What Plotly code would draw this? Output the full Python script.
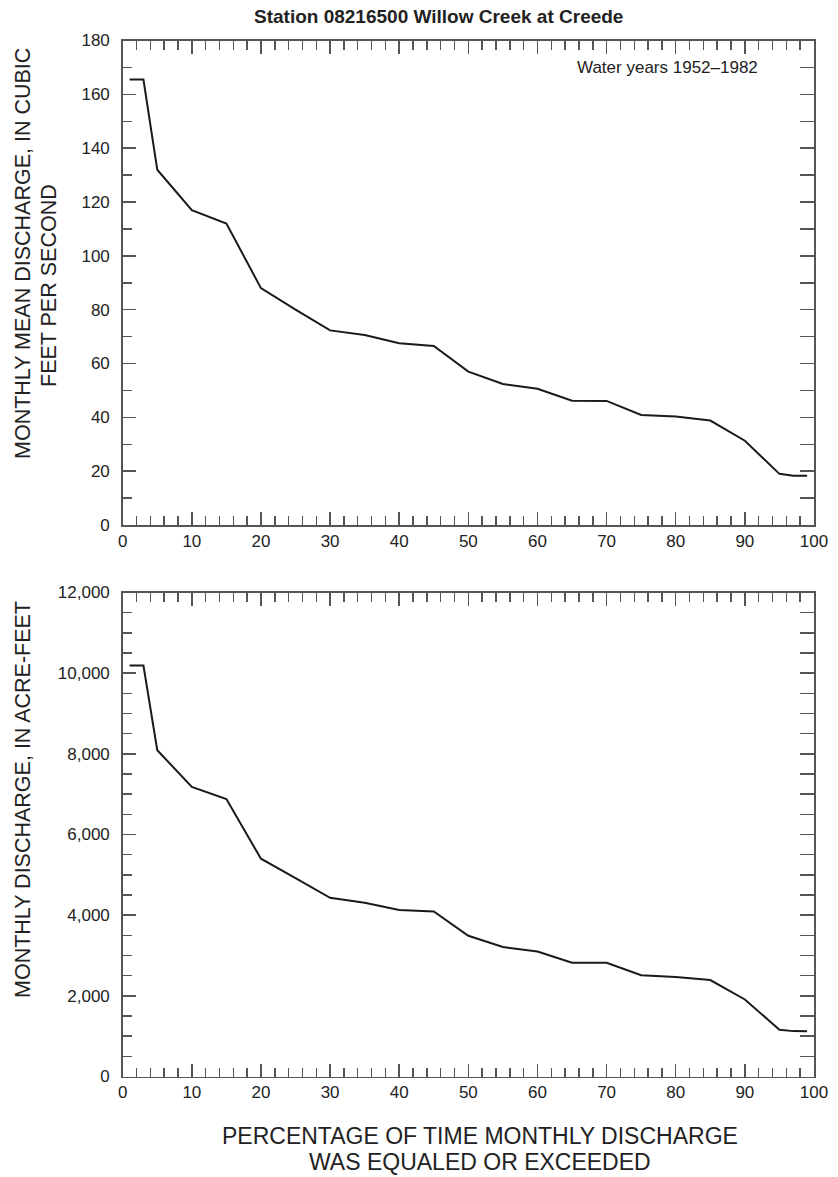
import plotly.graph_objects as go

# ---- data ----
percent = [1, 3, 5, 10, 15, 20, 25, 30, 35, 40, 45, 50, 55, 60, 65, 70, 75, 80, 85, 90, 95, 97, 99]
mean_cfs = [165.5, 165.5, 132, 117, 112, 88, 80, 72.3, 70.6, 67.5, 66.5, 57, 52.4, 50.6, 46.2, 46.1,
            40.9, 40.3, 38.8, 31.3, 19.0, 18.3, 18.3]
acre_feet = [10190, 10190, 8090, 7180, 6880, 5400, 4920, 4430, 4310, 4130, 4090, 3490, 3210, 3100,
             2820, 2820, 2510, 2470, 2390, 1910, 1160, 1125, 1120]

x_ticks = list(range(0, 101, 10))
top_y_ticks = list(range(0, 181, 20))
bot_y_ticks = list(range(0, 12001, 2000))

title_text = "<b>Station 08216500 Willow Creek at Creede</b>"
note_text = "Water years 1952\u20131982"
top_ytitle_1 = "MONTHLY MEAN DISCHARGE, IN CUBIC"
top_ytitle_2 = "FEET PER SECOND"
bot_ytitle = "MONTHLY DISCHARGE, IN ACRE-FEET"
xtitle_1 = "PERCENTAGE OF TIME MONTHLY DISCHARGE"
xtitle_2 = "WAS EQUALED OR EXCEEDED"

W, H = 838, 1177
FONT = "Liberation Sans, Arial, Helvetica, sans-serif"
AX = "#555555"
TXT = "#222222"

def px_x(p):
    return p / W

def px_y(p):
    return 1 - p / H

xdom = [px_x(122.7), px_x(814)]
top_dom = [px_y(525), px_y(40.5)]
bot_dom = [px_y(1076.5), px_y(592.5)]

fig = go.Figure()
fig.add_trace(go.Scatter(x=percent, y=mean_cfs, mode="lines", xaxis="x", yaxis="y",
                         line=dict(color="#1a1a1a", width=2), showlegend=False))
fig.add_trace(go.Scatter(x=percent, y=acre_feet, mode="lines", xaxis="x2", yaxis="y2",
                         line=dict(color="#1a1a1a", width=2), showlegend=False))

tickfont = dict(family=FONT, size=17, color=TXT)

def xaxis_cfg(anchor):
    return dict(domain=xdom, anchor=anchor, range=[0, 100], tickvals=x_ticks,
                ticks="inside", ticklen=13, tickwidth=1.5, tickcolor=AX,
                minor=dict(dtick=2, tick0=0, ticks="inside", ticklen=9, tickwidth=1.5, tickcolor=AX),
                showline=True, linecolor=AX, linewidth=1.5, mirror="ticks",
                showgrid=False, zeroline=False, tickfont=tickfont, fixedrange=True,
                automargin=False)

def yaxis_cfg(anchor, dom, rng, vals, minor_dt, fmt):
    return dict(domain=dom, anchor=anchor, range=rng, tickvals=vals, tickformat=fmt,
                ticks="inside", ticklen=13, tickwidth=1.5, tickcolor=AX,
                minor=dict(dtick=minor_dt, tick0=0, ticks="inside", ticklen=9, tickwidth=1.5, tickcolor=AX),
                showline=True, linecolor=AX, linewidth=1.5, mirror=False,
                showgrid=False, zeroline=False, tickfont=tickfont, fixedrange=True,
                ticklabelstandoff=8, automargin=False)

def right_cfg(over, anchor, rng, dt):
    return dict(overlaying=over, anchor=anchor, side="right", range=rng, dtick=dt, tick0=0,
                ticks="inside", ticklen=14, tickwidth=1.5, tickcolor=AX, showticklabels=False,
                showline=True, linecolor=AX, linewidth=1.5, showgrid=False, zeroline=False,
                fixedrange=True, automargin=False)

fig.update_layout(
    width=W, height=H,
    autosize=False,
    margin=dict(l=0, r=0, t=0, b=0, pad=0, autoexpand=False),
    paper_bgcolor="white", plot_bgcolor="white",
    font=dict(family=FONT, color=TXT),
    hovermode=False,
    xaxis=xaxis_cfg("y"),
    xaxis2=xaxis_cfg("y2"),
    yaxis=yaxis_cfg("x", top_dom, [0, 180], top_y_ticks, 10, ""),
    yaxis2=yaxis_cfg("x2", bot_dom, [0, 12000], bot_y_ticks, 500, ","),
    yaxis3=right_cfg("y", "x", [0, 180], 10),
    yaxis4=right_cfg("y2", "x2", [0, 12000], 500),
)

# invisible traces so the right-side overlay axes render
fig.add_trace(go.Scatter(x=[None], y=[None], xaxis="x", yaxis="y3", showlegend=False, hoverinfo="skip"))
fig.add_trace(go.Scatter(x=[None], y=[None], xaxis="x2", yaxis="y4", showlegend=False, hoverinfo="skip"))

TS = 21.5
anns = [
    dict(text=title_text, x=px_x(438), y=px_y(17), font=dict(family=FONT, size=19, color=TXT)),
    dict(text=note_text, x=px_x(760), y=px_y(67), xanchor="right", font=dict(family=FONT, size=17, color=TXT)),
    dict(text=top_ytitle_1, x=px_x(23), y=px_y(254), textangle=-90, font=dict(family=FONT, size=TS, color=TXT)),
    dict(text=top_ytitle_2, x=px_x(49), y=px_y(286), textangle=-90, font=dict(family=FONT, size=TS, color=TXT)),
    dict(text=bot_ytitle, x=px_x(23), y=px_y(800), textangle=-90, font=dict(family=FONT, size=TS, color=TXT)),
    dict(text=xtitle_1, x=px_x(480), y=px_y(1136), font=dict(family=FONT, size=23, color=TXT)),
    dict(text=xtitle_2, x=px_x(480), y=px_y(1162), font=dict(family=FONT, size=23, color=TXT)),
]
for a in anns:
    a.setdefault("xanchor", "center")
    a.update(xref="paper", yref="paper", showarrow=False, yanchor="middle")
fig.update_layout(annotations=anns)

fig.write_html("out.html", config={"responsive": False, "displayModeBar": False, "staticPlot": True},
               post_script="document.body.style.margin='0';document.body.style.overflow='hidden';")
